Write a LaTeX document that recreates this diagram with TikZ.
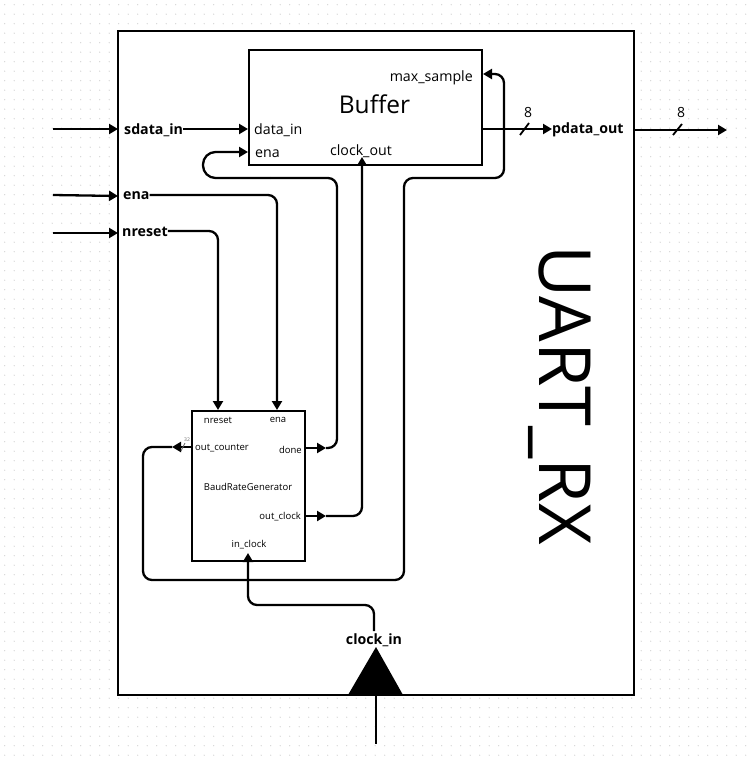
\documentclass[tikz,border=0pt]{standalone}
\usepackage{fontspec}
\setmainfont{Open Sans}
\usetikzlibrary{arrows.meta}
\tikzset{
  wire/.style={line width=2.3pt,rounded corners=9pt},
  arr/.style={wire,-{Triangle[length=9pt,width=10pt]}},
  block/.style={draw=black,line width=2pt,fill=white,inner sep=0pt},
  lab/.style={inner sep=0pt,font=\fontsize{14.2}{16}\selectfont},
  blab/.style={inner sep=0pt,font=\fontsize{14.2}{16}\selectfont\bfseries},
  tiny/.style={inner sep=0pt,font=\fontsize{9.5}{11}\selectfont},
  busmark/.style={line width=1.8pt},
  buslab/.style={inner sep=0pt,font=\fontsize{14}{16}\selectfont},
}
\begin{document}
\begin{tikzpicture}[x=1pt,y=-1pt]
\useasboundingbox (0,0) rectangle (753,762);
\fill[white] (0,0) rectangle (753,762);
\foreach \i in {0,...,79}{\foreach \j in {0,...,80}{
  \fill[black!16] ({4.7+9.5*\i},{4.7+9.5*\j}) circle (0.7pt);
}}
\node[block,minimum width=516pt,minimum height=664pt] (outer) at (376,363) {};
\node[inner sep=0pt,rotate=-90,font=\fontsize{72}{80}\selectfont] (title) at (559.5,395) {UART\_RX};

\node[block,minimum width=233pt,minimum height=115pt] (buffer) at (365.5,107.5) {};
\node[inner sep=0pt,font=\fontsize{24.5}{28}\selectfont] (buftitle) at (374.5,104.5) {Buffer};
\node[lab,anchor=east] (maxs) at (473,77.5) {max\_sample};
\node[lab,anchor=west] (datain) at (254,130) {data\_in};
\node[lab,anchor=west] (benain) at (255,154) {ena};
\node[lab] (clockout) at (361,151) {clock\_out};

\node[block,minimum width=113.5pt,minimum height=150pt] (baud) at (248.3,485.7) {};
\node[tiny] (bn) at (218,420) {nreset};
\node[tiny] (be) at (278,420) {ena};
\node[tiny,anchor=west] (boc) at (195,448) {out\_counter};
\node[tiny,anchor=east] (bd) at (302,450) {done};
\node[tiny] (bt) at (248,487) {BaudRateGenerator};
\node[tiny,anchor=east] (bo) at (301,517) {out\_clock};
\node[tiny] (bi) at (249,545) {in\_clock};

\node[blab,anchor=west] (sdata) at (124,130) {sdata\_in};
\node[blab,anchor=west] (ena) at (123,196) {ena};
\node[blab,anchor=west] (nreset) at (122,232) {nreset};
\node[blab,anchor=west] (pdata) at (552,130) {pdata\_out};
\node[blab] (clockin) at (374,640) {clock\_in};

\coordinate (extS) at (53,129);
\coordinate (extE) at (53,195);
\coordinate (extN) at (53,233);
\coordinate (extO) at (727,130);
\coordinate (extC) at (376,744);

\fill[black] (376,647) -- (403,695) -- (348,695) -- cycle;

\draw[arr] (extS) -- (118,129);
\draw[arr] (extE) -- (118,196);
\draw[arr] (extN) -- (118,233);
\draw[arr] (sdata.east |- 0,129) -- (248,129);
\draw[arr] (ena.east |- 0,195) -- (277,195) -- (277,410);
\draw[arr] (nreset.east |- 0,231) -- (218,231) -- (218,410);

% done -> Buffer ena
\coordinate (doneM) at (326,448);
\coordinate (loopS) at (270,178);
\draw[arr] (305,448) -- (doneM);
\draw[wire] (doneM) -- (337,448) -- (337,178) -- (loopS);
\draw[arr,rounded corners=12.5pt] (loopS) -- (203,178) -- (203,152) -- (248,152);

% out_clock -> clock_out
\coordinate (clkM) at (326,516);
\draw[arr] (305,516) -- (clkM);
\draw[arr] (clkM) -- (362,516) -- (362,157);

% out_counter -> max_sample
\coordinate (cntM) at (172,447);
\draw[arr] (191,447) -- (cntM);
\draw[arr] (cntM) -- (143,447) -- (143,580) -- (404,580) -- (404,178) -- (504,178) -- (504,74) -- (483,74);
\draw[line width=0.7pt,black!60] (181,451) -- (185,443);
\node[inner sep=0pt,font=\fontsize{5}{6}\selectfont,text=black!60] (cntlab) at (187,440) {32};

% clock_in -> in_clock
\draw[arr] (374,631) -- (374,605) -- (248,605) -- (248,553);
\draw[line width=2.3pt] (376,695) -- (extC);

% outputs
\draw[arr] (482,129) -- (pdata.west |- 0,129);
\draw[busmark] (520,135) -- (529,123);
\node[buslab] (b8a) at (528,113) {8};
\draw[arr] (634,130) -- (extO);
\draw[busmark] (673,135) -- (682,124);
\node[buslab] (b8b) at (681,113) {8};
\end{tikzpicture}
\end{document}
